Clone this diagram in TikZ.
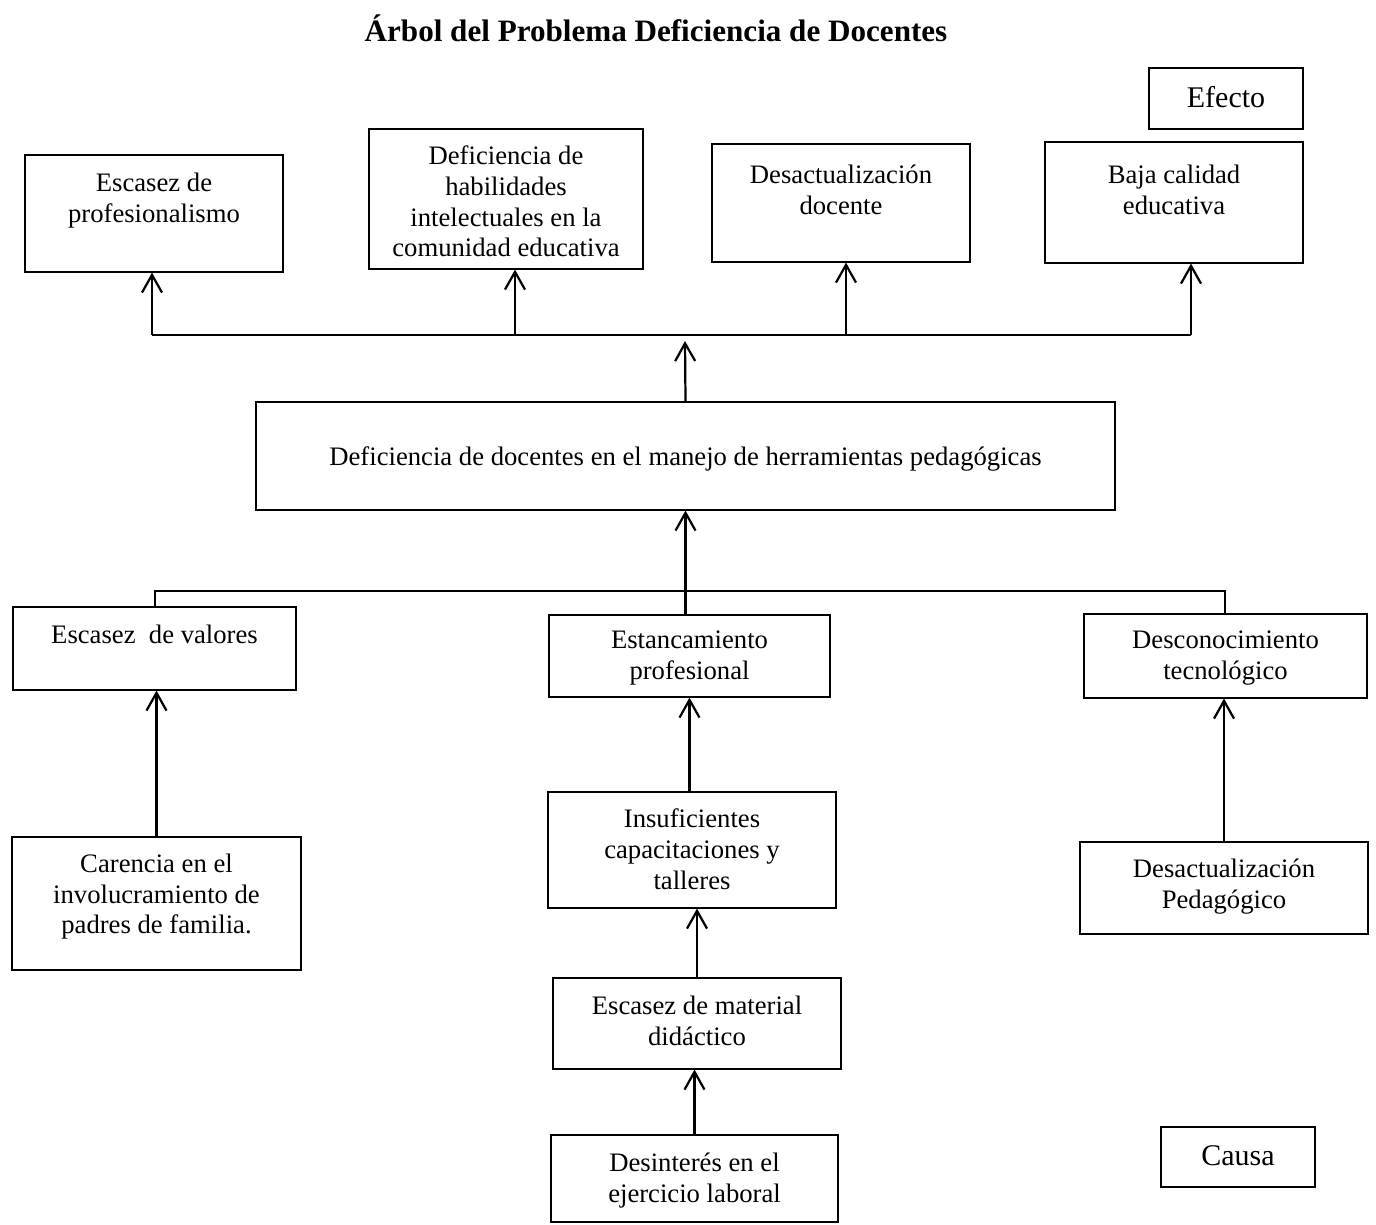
\documentclass[tikz,border=0pt]{standalone}
\usepackage{fontspec}
\setmainfont{Liberation Serif}
\usetikzlibrary{arrows.meta,positioning,fit,calc}
\tikzset{
    caja/.style = {draw, rectangle, inner sep=0pt, line width=0.5pt},
    texto/.style = {align=center, inner sep=0pt, anchor=north,
        font=\fontsize{12}{13.8}\selectfont},
    rotulo/.style = {inner sep=0pt, font=\fontsize{13.5}{16}\selectfont},
    linea/.style = {draw, line width=1pt},
    flecha/.style = {draw, line width=1pt,
        -{Straight Barb[length=8pt,width=9pt,line width=1pt]}}
}

\begin{document}
\begin{tikzpicture}[x=0.45pt,y=-0.45pt]
    \useasboundingbox (0,0) rectangle (1376,1224);
    \node [font=\bfseries\fontsize{14}{16}\selectfont] (titulo) at (656,28)
        {Árbol del Problema Deficiencia de Docentes};

    % efectos
    \node [caja, fit={(1149,68) (1303,129)}] (efecto) {};
    \node [rotulo] (efectot) at ($(efecto.center)+(0,-1)$) {Efecto};
    \node [caja, fit={(25,155) (283,272)}] (e1) {};
    \node [texto] (e1t) at ($(e1.north)+(0,18)$) {Escasez de\\profesionalismo};
    \node [caja, fit={(369,129) (643,269)}] (e2) {};
    \node [texto] (e2t) at ($(e2.north)+(0,17)$)
        {Deficiencia de\\habilidades\\intelectuales en la\\comunidad educativa};
    \node [caja, fit={(712,144) (970,262)}] (e3) {};
    \node [texto] (e3t) at ($(e3.north)+(0,21)$) {Desactualización\\docente};
    \node [caja, fit={(1045,142) (1303,263)}] (e4) {};
    \node [texto] (e4t) at ($(e4.north)+(0,23)$) {Baja calidad\\educativa};

    % problema central
    \node [caja, fit={(256,402) (1115,510)}] (pc) {};
    \node [texto, anchor=center] (pct) at ($(pc.center)+(0,3)$)
        {Deficiencia de docentes en el manejo de herramientas pedagógicas};

    % causas
    \node [caja, fit={(13,607) (296,690)}] (c1) {};
    \node [texto] (c1t) at ($(c1.north)+(0,18)$) {Escasez\ \ de valores};
    \node [caja, fit={(549,615) (830,697)}] (c2) {};
    \node [texto] (c2t) at ($(c2.north)+(0,16)$) {Estancamiento\\profesional};
    \node [caja, fit={(1084,614) (1367,698)}] (c3) {};
    \node [texto] (c3t) at ($(c3.north)+(0,17)$) {Desconocimiento\\tecnológico};
    \node [caja, fit={(12,837) (301,970)}] (c1a) {};
    \node [texto] (c1at) at ($(c1a.north)+(0,17)$)
        {Carencia en el\\involucramiento de\\padres de familia.};
    \node [caja, fit={(548,792) (836,908)}] (c2a) {};
    \node [texto] (c2at) at ($(c2a.north)+(0,17)$)
        {Insuficientes\\capacitaciones y\\talleres};
    \node [caja, fit={(1080,842) (1368,934)}] (c3a) {};
    \node [texto] (c3at) at ($(c3a.north)+(0,17)$) {Desactualización\\Pedagógico};
    \node [caja, fit={(553,978) (841,1069)}] (c2b) {};
    \node [texto] (c2bt) at ($(c2b.north)+(0,18)$) {Escasez de material\\didáctico};
    \node [caja, fit={(551,1135) (838,1222)}] (c2c) {};
    \node [texto] (c2ct) at ($(c2c.north)+(0,18)$) {Desinterés en el\\ejercicio laboral};
    \node [caja, fit={(1161,1127) (1315,1187)}] (causa) {};
    \node [rotulo] (causat) at ($(causa.center)+(0,-1)$) {Causa};

    % conectores de efectos
    \coordinate (ea) at (152,335);
    \coordinate (eb) at (515,335);
    \coordinate (ec) at (846,335);
    \coordinate (ed) at (1191,335);
    \coordinate (ptip) at (685,341);
    \draw [linea] (ea) -- (ed);
    \draw [flecha] (ea) -- (ea |- e1.south);
    \draw [flecha] (eb) -- (eb |- e2.south);
    \draw [flecha] (ec) -- (ec |- e3.south);
    \draw [flecha] (ed) -- (ed |- e4.south);
    \draw [flecha] (pc.north) -- (ptip);

    % conectores de causas
    \coordinate (ca) at (155,591);
    \coordinate (cb) at (1225,591);
    \draw [linea] (c1.north -| ca) -- (ca) -- (cb) -- (cb |- c3.north);
    \draw [flecha] (c2.north -| pc.south) -- (pc.south);
    \draw [flecha] (c1a.north) -- (c1a.north |- c1.south);
    \draw [flecha] (c2a.north -| c2.south) -- (c2.south);
    \draw [flecha] (c2b.north) -- (c2b.north |- c2a.south);
    \draw [flecha] (c2c.north) -- (c2c.north |- c2b.south);
    \draw [flecha] (c3a.north) -- (c3a.north |- c3.south);
\end{tikzpicture}
\end{document}
